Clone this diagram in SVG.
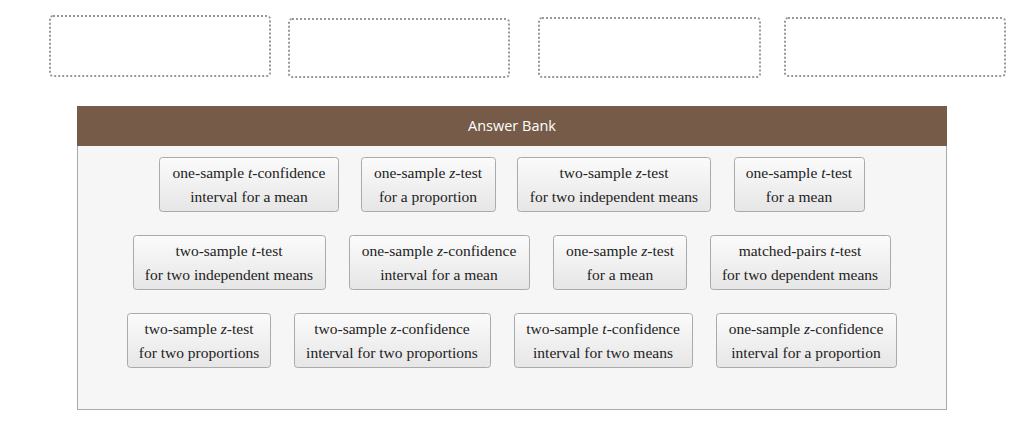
<svg xmlns="http://www.w3.org/2000/svg" width="1024" height="442" viewBox="0 0 1024 442">
<style>
.drop{fill:#fff;stroke:#999;stroke-width:2;stroke-dasharray:2 2}
.card{fill:url(#g);stroke:#aaa;stroke-width:1}
.t{font-family:"Liberation Serif",serif;font-size:15.5px;fill:#222;text-anchor:middle}
</style>
<defs><linearGradient id="g" x1="0" y1="0" x2="0" y2="1"><stop offset="0" stop-color="#fbfbfb"/><stop offset="1" stop-color="#e6e6e6"/></linearGradient></defs>
<rect width="1024" height="442" fill="#fff"/>
<g id="drops">
<rect class="drop" x="50" y="16" width="220" height="60" rx="3"/>
<rect class="drop" x="289" y="19" width="220" height="58" rx="3"/>
<rect class="drop" x="539" y="18" width="221" height="59" rx="3"/>
<rect class="drop" x="785" y="18" width="220" height="58" rx="3"/>
</g>
<g id="bank">
<rect x="77.5" y="106.5" width="869" height="303" fill="#f6f6f6" stroke="#aaa"/>
<rect x="77" y="106" width="870" height="40" fill="#765c48"/>
<text x="512" y="131" font-family="'Open Sans',sans-serif" font-size="14.5" fill="#fff" text-anchor="middle">Answer Bank</text>
</g>
<g id="c1"><rect class="card" x="159.5" y="157.5" width="179" height="54" rx="3"/><text class="t" x="249" y="178">one-sample <tspan font-style="italic">t</tspan>-confidence</text><text class="t" x="249" y="202">interval for a mean</text></g>
<g id="c2"><rect class="card" x="361.5" y="157.5" width="134" height="54" rx="3"/><text class="t" x="428" y="178">one-sample <tspan font-style="italic">z</tspan>-test</text><text class="t" x="428" y="202">for a proportion</text></g>
<g id="c3"><rect class="card" x="517.5" y="157.5" width="193" height="54" rx="3"/><text class="t" x="614" y="178">two-sample <tspan font-style="italic">z</tspan>-test</text><text class="t" x="614" y="202">for two independent means</text></g>
<g id="c4"><rect class="card" x="734.5" y="157.5" width="130" height="54" rx="3"/><text class="t" x="799" y="178">one-sample <tspan font-style="italic">t</tspan>-test</text><text class="t" x="799" y="202">for a mean</text></g>
<g id="c5"><rect class="card" x="133.5" y="235.5" width="192" height="54" rx="3"/><text class="t" x="229" y="256">two-sample <tspan font-style="italic">t</tspan>-test</text><text class="t" x="229" y="280">for two independent means</text></g>
<g id="c6"><rect class="card" x="349.5" y="235.5" width="180" height="54" rx="3"/><text class="t" x="439" y="256">one-sample <tspan font-style="italic">z</tspan>-confidence</text><text class="t" x="439" y="280">interval for a mean</text></g>
<g id="c7"><rect class="card" x="553.5" y="235.5" width="133" height="54" rx="3"/><text class="t" x="620" y="256">one-sample <tspan font-style="italic">z</tspan>-test</text><text class="t" x="620" y="280">for a mean</text></g>
<g id="c8"><rect class="card" x="710.5" y="235.5" width="180" height="54" rx="3"/><text class="t" x="800" y="256">matched-pairs <tspan font-style="italic">t</tspan>-test</text><text class="t" x="800" y="280">for two dependent means</text></g>
<g id="c9"><rect class="card" x="127.5" y="313.5" width="143" height="54" rx="3"/><text class="t" x="199" y="334">two-sample <tspan font-style="italic">z</tspan>-test</text><text class="t" x="199" y="358">for two proportions</text></g>
<g id="c10"><rect class="card" x="294.5" y="313.5" width="196" height="54" rx="3"/><text class="t" x="392" y="334">two-sample <tspan font-style="italic">z</tspan>-confidence</text><text class="t" x="392" y="358">interval for two proportions</text></g>
<g id="c11"><rect class="card" x="514.5" y="313.5" width="178" height="54" rx="3"/><text class="t" x="603" y="334">two-sample <tspan font-style="italic">t</tspan>-confidence</text><text class="t" x="603" y="358">interval for two means</text></g>
<g id="c12"><rect class="card" x="716.5" y="313.5" width="180" height="54" rx="3"/><text class="t" x="806" y="334">one-sample <tspan font-style="italic">z</tspan>-confidence</text><text class="t" x="806" y="358">interval for a proportion</text></g>
<g id="connectors"/>
</svg>
